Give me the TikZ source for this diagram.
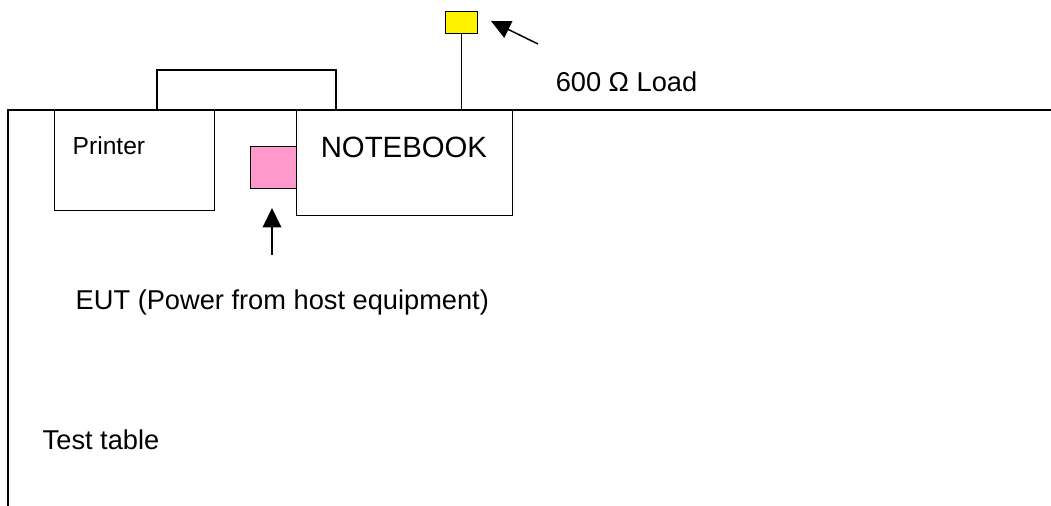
\documentclass[tikz,border=0pt]{standalone}
\usepackage{fontspec}
\setmainfont{Liberation Sans}
\usetikzlibrary{arrows.meta}
\definecolor{eutpink}{HTML}{FF99CC}
\begin{document}
\begin{tikzpicture}[x=0.02cm, y=-0.02cm, line width=0.85pt,
  box/.style={draw, inner sep=0pt, anchor=north west},
  lbl/.style={anchor=west, inner sep=0pt, font=\fontsize{15.5}{18}\selectfont},
  pointer/.style={-{Triangle[length=11pt, width=10.5pt]}}]
  \useasboundingbox (0,0) rectangle (1051,506);
  % edge of the test table
  \draw (8,506) -- (8,110) -- (1051,110);
  % cable from printer to notebook
  \draw (157,110) -- (157,70) -- (336,70) -- (336,110);
  \node[box, minimum width=3.2cm, minimum height=2cm] (printer) at (54,110) {};
  \node[box, minimum width=4.32cm, minimum height=2.1cm] (notebook) at (296,110) {};
  \node[box, fill=eutpink, minimum width=0.92cm, minimum height=0.84cm] (eut) at (250,146) {};
  \node[box, fill=yellow, minimum width=0.64cm, minimum height=0.44cm] (load) at (445,11) {};
  \draw (load.south) -- (load.south |- notebook.north);
  \node[lbl, font=\fontsize{14}{16}\selectfont] (printertxt) at (72,146) {Printer};
  \node[lbl, font=\fontsize{16.7}{19}\selectfont] (notebooktxt) at (320,147) {NOTEBOOK};
  \node[lbl] (loadtxt) at (555,82) {600 Ω Load};
  \node[lbl] (euttxt) at (75,302) {EUT (Power from host equipment)};
  \node[lbl] (tabletxt) at (42,440) {Test table};
  % pointers
  \coordinate (loadtail) at (538,44);
  \coordinate (loadtip) at (491,21);
  \coordinate (euttail) at (272,255);
  \coordinate (eut tip) at (272,208);
  \draw[pointer] (loadtail) -- (loadtip);
  \draw[pointer] (euttail) -- (eut tip);
\end{tikzpicture}
\end{document}
